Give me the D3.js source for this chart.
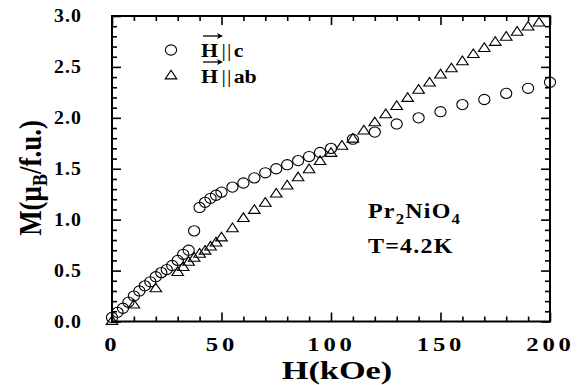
<!DOCTYPE html>
<html><head><meta charset="utf-8">
<script src="https://cdn.jsdelivr.net/npm/d3@7"></script>
<style>body{margin:0;background:#fff} svg{display:block}</style>
</head><body>
<svg id="chart" width="584" height="385"></svg>
<script>
// H || c  (circles)
const hcField = [0,2.5,5,7.5,10,12.5,15,17.5,20,22.5,25,27.5,30,32.5,35,37.5,40,42.5,45,47.5,50,55,60,65,70,75,80,85,90,95,100,110,120,130,140,150,160,170,180,190,200];
const hcM     = [0.04,0.09,0.13,0.19,0.25,0.30,0.35,0.39,0.44,0.48,0.51,0.55,0.60,0.66,0.70,0.89,1.12,1.17,1.21,1.24,1.27,1.32,1.36,1.41,1.46,1.50,1.54,1.58,1.62,1.66,1.70,1.79,1.86,1.94,2.00,2.06,2.13,2.18,2.24,2.29,2.35];
// H || ab (triangles)
const habField = [0,10,20,30,32.5,35,37.5,40,42.5,45,47.5,50,55,60,65,70,75,80,85,90,95,100,105,110,115,120,125,130,135,140,145,150,155,160,165,170,175,180,185,190,195];
const habM     = [0.00,0.16,0.32,0.48,0.53,0.58,0.62,0.66,0.69,0.73,0.77,0.82,0.91,1.01,1.09,1.16,1.25,1.33,1.41,1.49,1.57,1.65,1.72,1.79,1.87,1.95,2.03,2.11,2.19,2.27,2.34,2.42,2.48,2.55,2.62,2.68,2.74,2.79,2.84,2.89,2.93];

const xTickValues = [0,50,100,150,200];
const yTickValues = [0,0.5,1.0,1.5,2.0,2.5,3.0];
const xTitle = "H(kOe)";
const legendLabels = ["c","ab"];

const svg = d3.select("#chart");
const L=112, R=550, T=16, B=321.5;
const x = d3.scaleLinear().domain([0,200]).range([L,R]);
const y = d3.scaleLinear().domain([0,3]).range([B,T]);
const serif = "Liberation Serif, Times New Roman, serif";

const xMinor = d3.range(0,201,10).filter(v=>v%50!==0);
const yMinor = d3.range(0,31,1).map(v=>v/10).filter(v=>Math.round(v*10)%5!==0);

function styleAxis(g){ g.select(".domain").remove(); g.selectAll("line").attr("stroke","#000").attr("stroke-width",1.6); }

// bottom
const gb = svg.append("g").attr("transform",`translate(0,${B})`)
  .call(d3.axisBottom(x).tickValues(xTickValues).tickSize(-9).tickSizeOuter(0).tickPadding(16).tickFormat(d3.format("d")));
styleAxis(gb);
gb.attr("font-family",null);
gb.selectAll("text").attr("font-family",serif).attr("font-weight","bold").attr("font-size",19)
  .attr("fill","#000").style("letter-spacing","3px").attr("transform","scale(1.3,1)");
svg.append("g").attr("transform",`translate(0,${B})`).call(d3.axisBottom(x).tickValues(xMinor).tickSize(-5).tickFormat("")).call(styleAxis);
// top
svg.append("g").attr("transform",`translate(0,${T})`).call(d3.axisTop(x).tickValues(xTickValues).tickSize(-9).tickFormat("")).call(styleAxis);
svg.append("g").attr("transform",`translate(0,${T})`).call(d3.axisTop(x).tickValues(xMinor).tickSize(-5).tickFormat("")).call(styleAxis);
// left
const gl = svg.append("g").attr("transform",`translate(${L},0)`)
  .call(d3.axisLeft(y).tickValues(yTickValues).tickSize(-9).tickSizeOuter(0).tickFormat(d3.format(".1f")));
styleAxis(gl);
gl.attr("font-family",null);
gl.selectAll("text").attr("font-family",serif).attr("font-weight","bold").attr("font-size",18)
  .attr("fill","#000").style("letter-spacing","1px").attr("x",-30/1.1).attr("transform","scale(1.1,1)");
svg.append("g").attr("transform",`translate(${L},0)`).call(d3.axisLeft(y).tickValues(yMinor).tickSize(-5).tickFormat("")).call(styleAxis);
// right
svg.append("g").attr("transform",`translate(${R},0)`).call(d3.axisRight(y).tickValues(yTickValues).tickSize(-9).tickFormat("")).call(styleAxis);
svg.append("g").attr("transform",`translate(${R},0)`).call(d3.axisRight(y).tickValues(yMinor).tickSize(-5).tickFormat("")).call(styleAxis);

// frame
svg.append("rect").attr("x",L).attr("y",T).attr("width",R-L).attr("height",B-T)
  .attr("fill","none").attr("stroke","#000").attr("stroke-width",2);

// markers
const tri = d3.symbol().type(d3.symbolTriangle).size(48);
function drawCircle(g,cx,cy){ g.append("ellipse").attr("cx",cx).attr("cy",cy).attr("rx",5.6).attr("ry",5.1)
  .attr("fill","none").attr("stroke","#000").attr("stroke-width",1.1); }
function drawTri(g,cx,cy){ g.append("path").attr("d",tri()).attr("transform",`translate(${cx},${cy}) scale(1.1,0.95)`)
  .attr("fill","none").attr("stroke","#000").attr("stroke-width",1.1); }

const gData = svg.append("g");
habField.forEach((h,i)=>drawTri(gData,x(h),y(habM[i])));
hcField.forEach((h,i)=>drawCircle(gData,x(h),y(hcM[i])));

// axis titles
svg.append("text").attr("transform","translate(337,379) scale(1.32,1)").attr("text-anchor","middle")
  .attr("font-family",serif).attr("font-weight","bold").attr("font-size",26).text(xTitle);
const yt = svg.append("text").attr("transform","translate(41,178) scale(1.2,1) rotate(-90)").attr("text-anchor","middle")
  .attr("font-family",serif).attr("font-weight","bold").attr("font-size",27);
yt.append("tspan").text("M(\u03bc");
yt.append("tspan").attr("font-size",18).attr("dy",5).text("B");
yt.append("tspan").attr("dy",-5).text("/f.u.)");

// legend
function legendText(cx,base,sub){
  const t = svg.append("text").attr("transform",`translate(${cx},${base}) scale(1.15,1)`)
    .attr("font-family",serif).attr("font-size",19).attr("font-weight","bold");
  t.append("tspan").text("H");
  t.append("tspan").attr("font-weight","normal").style("letter-spacing","1px").attr("dx",3).text("||");
  t.append("tspan").attr("dx",1).text(sub);
  const ay = base-21;
  svg.append("line").attr("x1",cx+2).attr("x2",cx+20).attr("y1",ay).attr("y2",ay).attr("stroke","#000").attr("stroke-width",1.3);
  svg.append("path").attr("d",`M${cx+22},${ay} L${cx+16},${ay-3} L${cx+17.5},${ay} L${cx+16},${ay+3} Z`).attr("fill","#000");
}
drawCircle(svg,171,50);
legendText(201,57,legendLabels[0]);
drawTri(svg,171,76);
legendText(201,83,legendLabels[1]);

// annotation
const ann = svg.append("text").attr("transform","translate(368,218) scale(1.2,1)")
  .attr("font-family",serif).attr("font-weight","bold").attr("font-size",20).style("letter-spacing","1px");
ann.append("tspan").text("Pr");
ann.append("tspan").attr("font-size",14).attr("dy",6).text("2");
ann.append("tspan").attr("dy",-6).text("NiO");
ann.append("tspan").attr("font-size",14).attr("dy",6).text("4");
svg.append("text").attr("transform","translate(368,253) scale(1.2,1)")
  .attr("font-family",serif).attr("font-weight","bold").attr("font-size",20).style("letter-spacing","1px").text("T=4.2K");
</script>
</body></html>
